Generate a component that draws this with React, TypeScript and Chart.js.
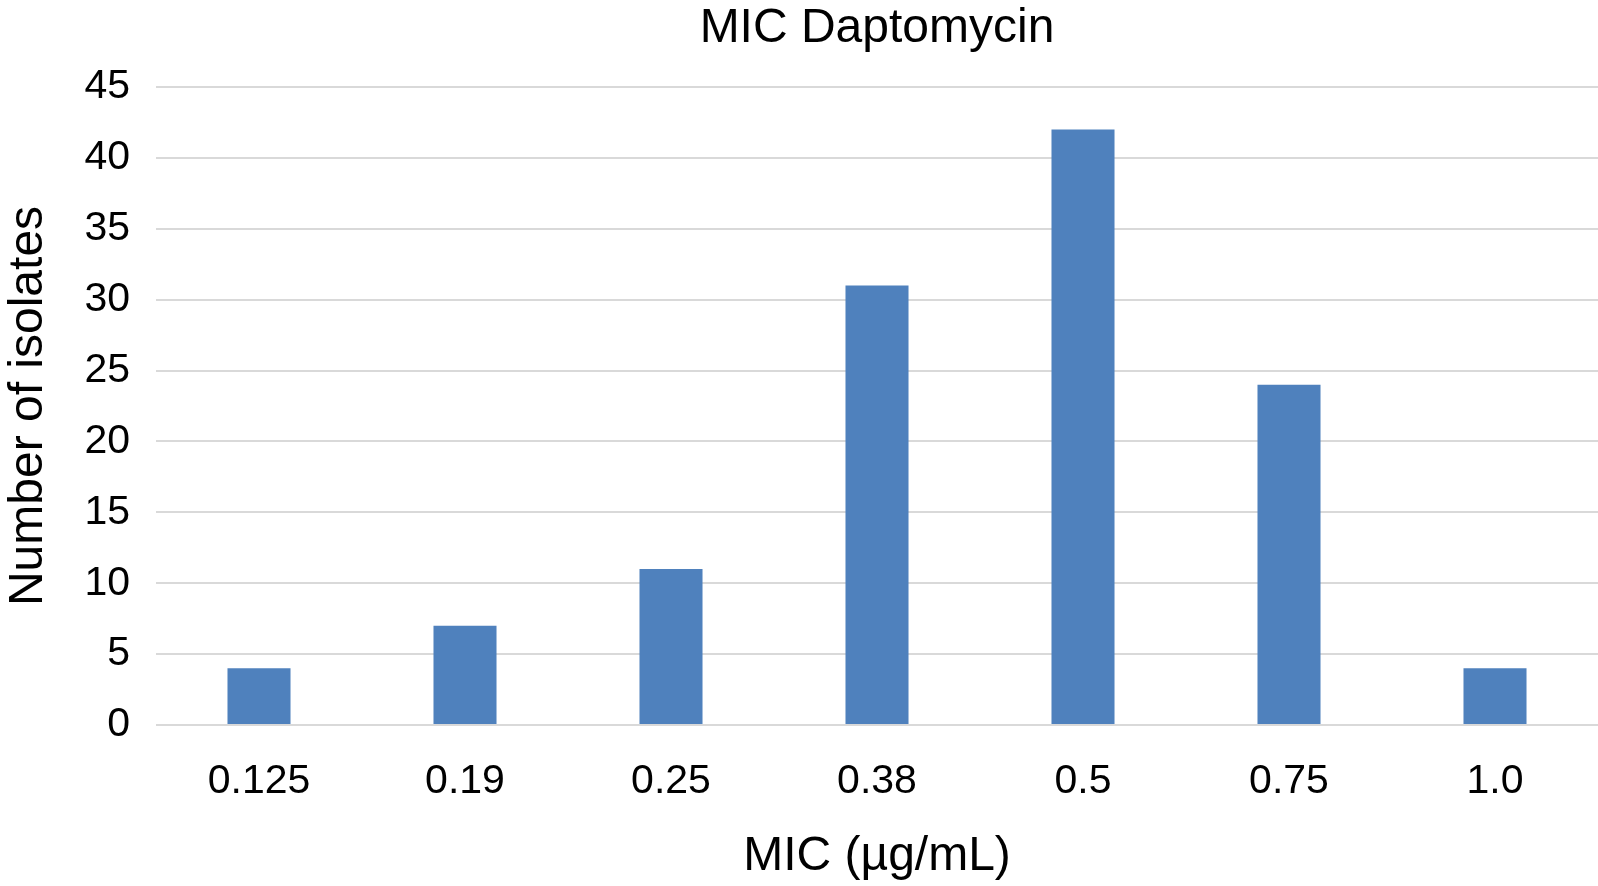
import React, { useEffect, useRef } from "react";
import { Chart, registerables } from "chart.js";

Chart.register(...registerables);

const categories = ["0.125", "0.19", "0.25", "0.38", "0.5", "0.75", "1.0"];
const isolates = [4, 7, 11, 31, 42, 24, 4];
const yTicks = [0, 5, 10, 15, 20, 25, 30, 35, 40, 45];

const chartTitle = "MIC Daptomycin";
const xTitle = "MIC (\u00b5g/mL)";
const yTitle = "Number of isolates";

const FONT = "'Liberation Sans', Arial, Helvetica, sans-serif";

export default function App() {
  const ref = useRef<HTMLCanvasElement | null>(null);

  useEffect(() => {
    if (!ref.current) return;
    const chart = new Chart(ref.current, {
      type: "bar",
      data: {
        labels: categories,
        datasets: [
          {
            data: isolates,
            backgroundColor: "#4F81BD",
            borderWidth: 0,
            barPercentage: 0.306,
            categoryPercentage: 1,
          },
        ],
      },
      options: {
        responsive: false,
        animation: false,
        devicePixelRatio: 1,
        layout: { padding: 0 },
        plugins: {
          legend: { display: false },
          tooltip: { enabled: false },
          title: {
            display: true,
            text: chartTitle,
            fullSize: false,
            color: "#000",
            font: { family: FONT, size: 48, weight: "normal", lineHeight: 1.2 },
            padding: { top: 0, bottom: 29.4 },
          },
        },
        scales: {
          x: {
            grid: { display: false },
            border: { display: false },
            ticks: {
              color: "#000",
              font: { family: FONT, size: 41, lineHeight: 1.2 },
              padding: 24,
              maxRotation: 0,
              autoSkip: false,
            },
            title: {
              display: true,
              text: xTitle,
              color: "#000",
              font: { family: FONT, size: 48, lineHeight: 1.2 },
              padding: { top: 0, bottom: 0 },
            },
            afterFit: (scale: any) => {
              scale.height = 161;
            },
          },
          y: {
            min: 0,
            max: 45,
            afterBuildTicks: (scale: any) => {
              scale.ticks = yTicks.map((v) => ({ value: v }));
            },
            grid: {
              color: "#D9D9D9",
              lineWidth: 2,
              drawTicks: false,
            },
            border: { display: false },
            ticks: {
              color: "#000",
              font: { family: FONT, size: 41, lineHeight: 1.2 },
              padding: 26,
            },
            title: {
              display: true,
              text: yTitle,
              color: "#000",
              font: { family: FONT, size: 48, lineHeight: 1.2 },
              padding: { top: 0, bottom: 0 },
            },
            afterFit: (scale: any) => {
              scale.width = 156;
            },
          },
        },
      },
    });
    return () => chart.destroy();
  }, []);

  return (
    <div
      style={{
        position: "absolute",
        left: 0,
        top: 0,
        width: 1598,
        height: 886,
        background: "#fff",
      }}
    >
      <canvas ref={ref} width={1598} height={886} style={{ display: "block" }} />
    </div>
  );
}
